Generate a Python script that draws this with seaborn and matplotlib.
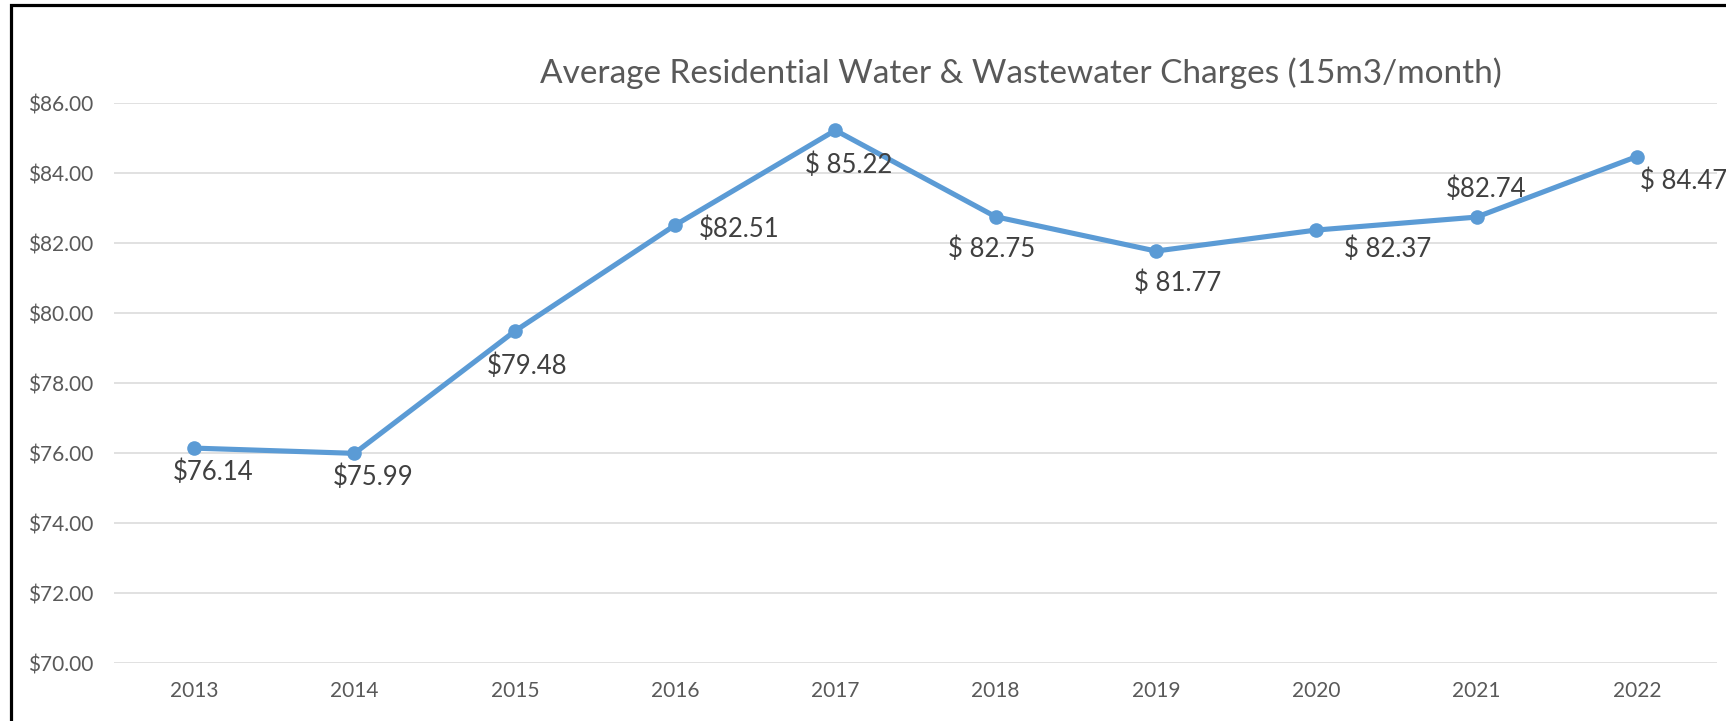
import matplotlib
matplotlib.use("Agg")
import matplotlib.pyplot as plt
from matplotlib.patches import Rectangle
import seaborn as sns
import pandas as pd

years = [2013, 2014, 2015, 2016, 2017, 2018, 2019, 2020, 2021, 2022]
charges = [76.14, 75.99, 79.48, 82.51, 85.22, 82.75, 81.77, 82.37, 82.74, 84.47]
point_labels = ["$76.14", "$75.99", "$79.48", "$82.51", "$ 85.22",
                "$ 82.75", "$ 81.77", "$ 82.37", "$82.74", "$ 84.47"]
y_ticks = [70, 72, 74, 76, 78, 80, 82, 84, 86]
title = "Average Residential Water & Wastewater Charges (15m3/month)"

# label placement (offset in pixels from the point, horizontal alignment)
label_pos = [(19, -24, "center"), (19, -24, "center"), (12, -35, "center"),
             (24, -4, "left"), (13, -35, "center"), (-4, -32, "center"),
             (22, -32, "center"), (71, -19, "center"), (9, 28, "center"),
             (3, -25, "left")]

LINE = "#5B9BD5"
GREY = "#595959"
TEXT = "#404040"

sns.set_style("white")
plt.rcParams["font.family"] = ["Lato", "DejaVu Sans"]

df = pd.DataFrame({"year": years, "charge": charges})

fig = plt.figure(figsize=(17.26, 7.21), dpi=100)
ax = fig.add_axes([114 / 1726, 1 - 663 / 721, (1717 - 114) / 1726, (663 - 103) / 721])

sns.lineplot(data=df, x="year", y="charge", ax=ax, color=LINE, linewidth=3.7,
             marker="o", markersize=10.5, markeredgewidth=0, zorder=3)

ax.set_xlim(2012.5, 2022.5)
ax.set_ylim(70, 86)
ax.set_yticks(y_ticks)
ax.set_yticklabels([f"${v:.2f}" for v in y_ticks])
ax.set_xticks(years)
ax.set_xticklabels([str(y) for y in years])
ax.tick_params(axis="y", length=0, pad=15, labelsize=15, labelcolor=GREY)
ax.tick_params(axis="x", length=0, pad=13, labelsize=15, labelcolor=GREY)
ax.set_xlabel("")
ax.set_ylabel("")
ax.grid(axis="y", color="#D9D9D9", linewidth=1.1)
ax.set_axisbelow(True)
for s in ax.spines.values():
    s.set_visible(False)

for x, y, lab, (dx, dy, ha) in zip(years, charges, point_labels, label_pos):
    ax.annotate(lab, (x, y), xytext=(dx, dy), textcoords="offset pixels",
                ha=ha, va="center", fontsize=18.5, color=TEXT,
                annotation_clip=False, clip_on=False)

fig.text(1021 / 1726, 1 - 73 / 721, title, ha="center", va="center",
         fontsize=24, color=GREY)

# chart border (only left and top edges visible in the crop)
fig.patches.append(Rectangle((10.5 / 1726, -0.2), 1.2, 1.2 - 5 / 721,
                             transform=fig.transFigure, fill=False,
                             edgecolor="black", linewidth=2.3))

fig.savefig("out.png", dpi=100)
